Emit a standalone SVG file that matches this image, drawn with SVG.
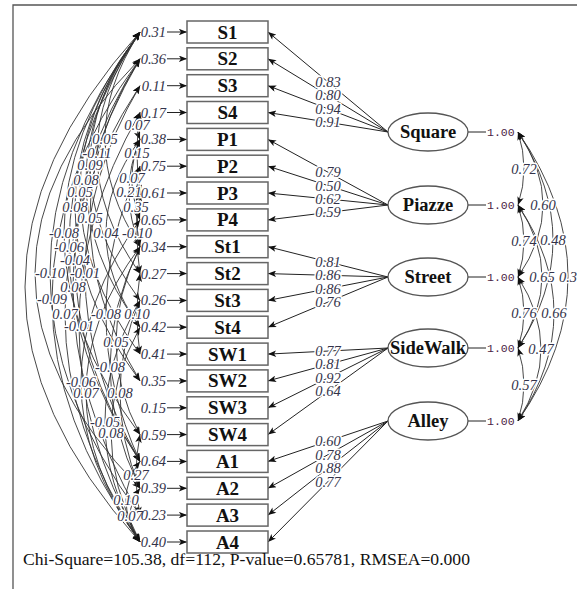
<svg xmlns="http://www.w3.org/2000/svg" width="577" height="589" viewBox="0 0 577 589">
<style>
.box{fill:#fff;stroke:#666;stroke-width:1.5}
.bt{font-family:"Liberation Serif","Times New Roman",serif;font-weight:bold;font-size:19px;text-anchor:middle;fill:#111}
.ell{fill:#fff;stroke:#555;stroke-width:1.3}
.et{font-family:"Liberation Serif","Times New Roman",serif;font-weight:bold;font-size:18.5px;text-anchor:middle;fill:#111}
.lab{font-family:"Liberation Serif","Times New Roman",serif;font-style:italic;font-size:14.5px;fill:#33334a}
.mid{text-anchor:middle}
.end{text-anchor:end}
.halo{paint-order:stroke;stroke:#fff;stroke-width:3px;stroke-linejoin:round}
.mono{font-family:"Liberation Mono","Courier New",monospace;font-size:11.5px;fill:#4a2344}
.ld{stroke:#222;stroke-width:1;fill:none;marker-end:url(#ah)}
.ln{stroke:#222;stroke-width:1;fill:none}
.arc{stroke:#333;stroke-width:0.9;fill:none;marker-start:url(#ah);marker-end:url(#ah)}
.chi{font-family:"Liberation Serif","Times New Roman",serif;font-size:16px;fill:#111}
</style>
<defs>
<marker id="ah" viewBox="0 0 10 8" refX="10" refY="4" markerWidth="9" markerHeight="6.5" markerUnits="userSpaceOnUse" orient="auto-start-reverse">
<path d="M0,0 L10,4 L0,8 L2.5,4 z" fill="#111"/>
</marker>
</defs>
<rect width="577" height="589" fill="#fff"/>
<path d="M13,589 V5 H577" stroke="#555" stroke-width="1.3" fill="none"/>

<g id="connectors">
<g class="ld">
<line x1="167" y1="32" x2="187" y2="32"/><line x1="167" y1="58.8" x2="187" y2="58.8"/>
<line x1="167" y1="85.7" x2="187" y2="85.7"/><line x1="167" y1="112.5" x2="187" y2="112.5"/>
<line x1="167" y1="139.4" x2="187" y2="139.4"/><line x1="167" y1="166.2" x2="187" y2="166.2"/>
<line x1="167" y1="193" x2="187" y2="193"/><line x1="167" y1="219.9" x2="187" y2="219.9"/>
<line x1="167" y1="246.7" x2="187" y2="246.7"/><line x1="167" y1="273.6" x2="187" y2="273.6"/>
<line x1="167" y1="300.4" x2="187" y2="300.4"/><line x1="167" y1="327.2" x2="187" y2="327.2"/>
<line x1="167" y1="354.1" x2="187" y2="354.1"/><line x1="167" y1="380.9" x2="187" y2="380.9"/>
<line x1="167" y1="407.8" x2="187" y2="407.8"/><line x1="167" y1="434.6" x2="187" y2="434.6"/>
<line x1="167" y1="461.4" x2="187" y2="461.4"/><line x1="167" y1="488.3" x2="187" y2="488.3"/>
<line x1="167" y1="515.1" x2="187" y2="515.1"/><line x1="167" y1="542" x2="187" y2="542"/>
</g>
<g class="ld">
<line x1="388" y1="132" x2="268" y2="32"/><line x1="388" y1="132" x2="268" y2="58.8"/>
<line x1="388" y1="132" x2="268" y2="85.7"/><line x1="388" y1="132" x2="268" y2="112.5"/>
<line x1="388" y1="205" x2="268" y2="139.4"/><line x1="388" y1="205" x2="268" y2="166.2"/>
<line x1="388" y1="205" x2="268" y2="193"/><line x1="388" y1="205" x2="268" y2="219.9"/>
<line x1="388" y1="277" x2="268" y2="246.7"/><line x1="388" y1="277" x2="268" y2="273.6"/>
<line x1="388" y1="277" x2="268" y2="300.4"/><line x1="388" y1="277" x2="268" y2="327.2"/>
<line x1="388" y1="348" x2="268" y2="354.1"/><line x1="388" y1="348" x2="268" y2="380.9"/>
<line x1="388" y1="348" x2="268" y2="407.8"/><line x1="388" y1="348" x2="268" y2="434.6"/>
<line x1="388" y1="421" x2="268" y2="461.4"/><line x1="388" y1="421" x2="268" y2="488.3"/>
<line x1="388" y1="421" x2="268" y2="515.1"/><line x1="388" y1="421" x2="268" y2="542"/>
</g>
<g class="ln">
<line x1="468" y1="132" x2="486" y2="132"/><line x1="468" y1="205" x2="486" y2="205"/>
<line x1="468" y1="277" x2="486" y2="277"/><line x1="468" y1="348" x2="486" y2="348"/>
<line x1="468" y1="421" x2="486" y2="421"/>
</g>
<g class="arc">
<path d="M518,132 Q530,168.5 518,205"/>
<path d="M518,205 Q530,241 518,277"/>
<path d="M518,277 Q530,312.5 518,348"/>
<path d="M518,348 Q530,384.5 518,421"/>
<path d="M518,132 Q568,204.5 518,277"/>
<path d="M518,205 Q566,276.5 518,348"/>
<path d="M518,277 Q564,349 518,421"/>
<path d="M518,132 Q588,240 518,348"/>
<path d="M518,205 Q590,313 518,421"/>
<path d="M518,132 Q618,276.5 518,421"/>
</g>
<g class="arc">
<path d="M140,32 Q-90,287 140,542"/>
<path d="M140,58.8 Q-70,273.5 140,488.3"/>
<path d="M140,112.5 Q134,124 140,139.4"/>
<path d="M140,32 Q70,138.7 140,246.7"/>
<path d="M140,32 Q54,153.2 140,273.6"/>
<path d="M140,112.5 Q134,153.3 140,193"/>
<path d="M140,32 Q40,163.8 140,300.4"/>
<path d="M140,139.4 Q124,176.4 140,219.9"/>
<path d="M140,32 Q32,180.4 140,327.2"/>
<path d="M140,139.4 Q118,191 140,246.7"/>
<path d="M140,32 Q20,191 140,354.1"/>
<path d="M140,166.2 Q132,207.6 140,246.7"/>
<path d="M140,32 Q10,207.6 140,380.9"/>
<path d="M140,58.8 Q40,216.2 140,380.9"/>
<path d="M140,32 Q-12,232.7 140,434.6"/>
<path d="M140,139.4 Q72,232.7 140,327.2"/>
<path d="M140,193 Q134,232.7 140,273.6"/>
<path d="M140,32 Q-2,247.3 140,461.4"/>
<path d="M140,58.8 Q10,259.9 140,461.4"/>
<path d="M140,32 Q-40,272.5 140,515.1"/>
<path d="M140,85.7 Q30,272.5 140,461.4"/>
<path d="M140,58.8 Q6,287 140,515.1"/>
<path d="M140,58.8 Q-36,297.6 140,542"/>
<path d="M140,85.7 Q-10,314.2 140,542"/>
<path d="M140,166.2 Q72,314.2 140,461.4"/>
<path d="M140,273.6 Q134,314.2 140,354.1"/>
<path d="M140,112.5 Q18,324.8 140,542"/>
<path d="M140,246.7 Q92,343.4 140,434.6"/>
<path d="M140,246.7 Q80,366.5 140,488.3"/>
<path d="M140,219.9 Q22,383 140,542"/>
<path d="M140,246.7 Q32,391.7 140,542"/>
<path d="M140,300.4 Q100,391.7 140,488.3"/>
<path d="M140,300.4 Q70,422.8 140,542"/>
<path d="M140,327.2 Q82,431.4 140,542"/>
<path d="M140,434.6 Q132,475.2 140,515.1"/>
<path d="M140,461.4 Q112,498.3 140,542"/>
<path d="M140,488.3 Q120,516.9 140,542"/>
</g>
</g>

<g id="path-labels" class="lab mid halo">
<text x="328" y="87">0.83</text><text x="328" y="100.4">0.80</text>
<text x="328" y="113.8">0.94</text><text x="328" y="127.2">0.91</text>
<text x="328" y="177.2">0.79</text><text x="328" y="190.6">0.50</text>
<text x="328" y="204">0.62</text><text x="328" y="217.4">0.59</text>
<text x="328" y="266.8">0.81</text><text x="328" y="280.3">0.86</text>
<text x="328" y="293.7">0.86</text><text x="328" y="307.1">0.76</text>
<text x="328" y="356">0.77</text><text x="328" y="369.4">0.81</text>
<text x="328" y="382.9">0.92</text><text x="328" y="396.3">0.64</text>
<text x="328" y="446.2">0.60</text><text x="328" y="459.6">0.78</text>
<text x="328" y="473">0.88</text><text x="328" y="486.5">0.77</text>
<text x="524" y="173.5">0.72</text><text x="524" y="246">0.74</text>
<text x="524" y="317.5">0.76</text><text x="524" y="389.5">0.57</text>
<text x="543" y="209.5">0.60</text><text x="542" y="281.5">0.65</text>
<text x="541" y="354">0.47</text><text x="553" y="245">0.48</text>
<text x="554" y="318">0.66</text><text x="568" y="281.5">0.3</text>
<text x="137" y="130">0.07</text><text x="105" y="144">0.05</text>
<text x="97" y="158">-0.11</text><text x="137" y="158">0.15</text>
<text x="90" y="170">0.09</text><text x="132" y="183">0.07</text>
<text x="86" y="185">0.08</text><text x="129" y="197">0.21</text>
<text x="80" y="197">0.05</text><text x="136" y="212">0.35</text>
<text x="75" y="212">0.08</text><text x="90" y="223">0.05</text>
<text x="64" y="238">-0.08</text><text x="106" y="238">0.04</text>
<text x="137" y="238">-0.10</text><text x="69" y="252">-0.06</text>
<text x="75" y="265">-0.04</text><text x="50" y="278">-0.10</text>
<text x="85" y="278">-0.01</text><text x="73" y="292">0.08</text>
<text x="52" y="304">-0.09</text><text x="65" y="319">0.07</text>
<text x="106" y="319">-0.08</text><text x="137" y="319">0.10</text>
<text x="79" y="331">-0.01</text><text x="116" y="347">0.05</text>
<text x="110" y="372">-0.08</text><text x="81" y="387">-0.06</text>
<text x="86" y="398">0.07</text><text x="120" y="398">0.08</text>
<text x="105" y="427">-0.05</text><text x="111" y="438">0.08</text>
<text x="136" y="480">0.27</text><text x="126" y="505">0.10</text>
<text x="130" y="521">0.07</text>
</g>

<g id="S1"><rect class="box" x="187" y="21" width="81" height="22"/><text class="bt" x="227.5" y="38.5">S1</text><text class="lab end" x="166" y="37">0.31</text></g>
<g id="S2"><rect class="box" x="187" y="47.8" width="81" height="22"/><text class="bt" x="227.5" y="65.3">S2</text><text class="lab end" x="166" y="63.8">0.36</text></g>
<g id="S3"><rect class="box" x="187" y="74.7" width="81" height="22"/><text class="bt" x="227.5" y="92.2">S3</text><text class="lab end" x="166" y="90.7">0.11</text></g>
<g id="S4"><rect class="box" x="187" y="101.5" width="81" height="22"/><text class="bt" x="227.5" y="119">S4</text><text class="lab end" x="166" y="117.5">0.17</text></g>
<g id="P1"><rect class="box" x="187" y="128.4" width="81" height="22"/><text class="bt" x="227.5" y="145.9">P1</text><text class="lab end" x="166" y="144.4">0.38</text></g>
<g id="P2"><rect class="box" x="187" y="155.2" width="81" height="22"/><text class="bt" x="227.5" y="172.7">P2</text><text class="lab end" x="166" y="171.2">0.75</text></g>
<g id="P3"><rect class="box" x="187" y="182" width="81" height="22"/><text class="bt" x="227.5" y="199.5">P3</text><text class="lab end" x="166" y="198">0.61</text></g>
<g id="P4"><rect class="box" x="187" y="208.9" width="81" height="22"/><text class="bt" x="227.5" y="226.4">P4</text><text class="lab end" x="166" y="224.9">0.65</text></g>
<g id="St1"><rect class="box" x="187" y="235.7" width="81" height="22"/><text class="bt" x="227.5" y="253.2">St1</text><text class="lab end" x="166" y="251.7">0.34</text></g>
<g id="St2"><rect class="box" x="187" y="262.6" width="81" height="22"/><text class="bt" x="227.5" y="280.1">St2</text><text class="lab end" x="166" y="278.6">0.27</text></g>
<g id="St3"><rect class="box" x="187" y="289.4" width="81" height="22"/><text class="bt" x="227.5" y="306.9">St3</text><text class="lab end" x="166" y="305.4">0.26</text></g>
<g id="St4"><rect class="box" x="187" y="316.2" width="81" height="22"/><text class="bt" x="227.5" y="333.7">St4</text><text class="lab end" x="166" y="332.2">0.42</text></g>
<g id="SW1"><rect class="box" x="187" y="343.1" width="81" height="22"/><text class="bt" x="227.5" y="360.6">SW1</text><text class="lab end" x="166" y="359.1">0.41</text></g>
<g id="SW2"><rect class="box" x="187" y="369.9" width="81" height="22"/><text class="bt" x="227.5" y="387.4">SW2</text><text class="lab end" x="166" y="385.9">0.35</text></g>
<g id="SW3"><rect class="box" x="187" y="396.8" width="81" height="22"/><text class="bt" x="227.5" y="414.3">SW3</text><text class="lab end" x="166" y="412.8">0.15</text></g>
<g id="SW4"><rect class="box" x="187" y="423.6" width="81" height="22"/><text class="bt" x="227.5" y="441.1">SW4</text><text class="lab end" x="166" y="439.6">0.59</text></g>
<g id="A1"><rect class="box" x="187" y="450.4" width="81" height="22"/><text class="bt" x="227.5" y="467.9">A1</text><text class="lab end" x="166" y="466.4">0.64</text></g>
<g id="A2"><rect class="box" x="187" y="477.3" width="81" height="22"/><text class="bt" x="227.5" y="494.8">A2</text><text class="lab end" x="166" y="493.3">0.39</text></g>
<g id="A3"><rect class="box" x="187" y="504.1" width="81" height="22"/><text class="bt" x="227.5" y="521.6">A3</text><text class="lab end" x="166" y="520.1">0.23</text></g>
<g id="A4"><rect class="box" x="187" y="531" width="81" height="22"/><text class="bt" x="227.5" y="548.5">A4</text><text class="lab end" x="166" y="547">0.40</text></g>

<g id="Square"><ellipse class="ell" cx="428" cy="132" rx="40" ry="19"/><text class="et" x="428" y="138">Square</text><text class="mono" x="487" y="136">1.00</text></g>
<g id="Piazze"><ellipse class="ell" cx="428" cy="205" rx="40" ry="19"/><text class="et" x="428" y="211">Piazze</text><text class="mono" x="487" y="209">1.00</text></g>
<g id="Street"><ellipse class="ell" cx="428" cy="277" rx="40" ry="19"/><text class="et" x="428" y="283">Street</text><text class="mono" x="487" y="281">1.00</text></g>
<g id="SideWalk"><ellipse class="ell" cx="428" cy="348" rx="40" ry="19"/><text class="et" x="428" y="354">SideWalk</text><text class="mono" x="487" y="352">1.00</text></g>
<g id="Alley"><ellipse class="ell" cx="428" cy="421" rx="40" ry="19"/><text class="et" x="428" y="427">Alley</text><text class="mono" x="487" y="425">1.00</text></g>

<text class="chi" x="23" y="565" textLength="447" lengthAdjust="spacingAndGlyphs">Chi-Square=105.38, df=112, P-value=0.65781, RMSEA=0.000</text>
</svg>
